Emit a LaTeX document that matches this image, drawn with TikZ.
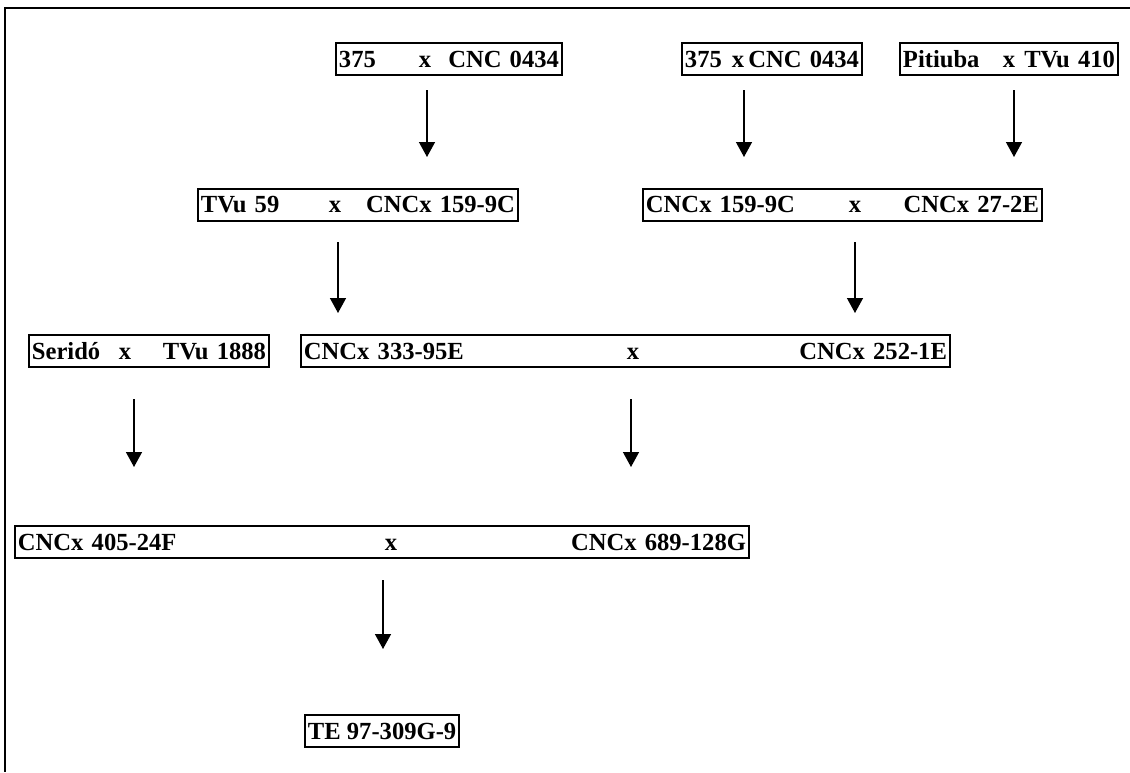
\documentclass[tikz,border=0pt]{standalone}
\usepackage{fontspec}
\setmainfont{Liberation Serif}
\usepackage{tikz}
\usetikzlibrary{arrows.meta}
\newlength\px
\setlength\px{0.02cm}
\newcommand{\crossline}[3]{\makebox[#1][l]{#2}\makebox[0pt]{x}\hfill\mbox{#3}}
\tikzset{
  crossbox/.style={draw, line width=1.1pt, anchor=north west, minimum height=32\px,
                   inner xsep=3\px, inner ysep=0pt, font=\fontsize{14}{16}\selectfont\bfseries},
  boxw/.style={minimum width=#1\px, text width=#1\px-6\px},
  cross arrow/.style={-{Triangle[width=0.32cm, length=0.3cm]}, line width=0.8pt}
}

\begin{document}
\begin{tikzpicture}[x=0.02cm, y=-0.02cm]
    \useasboundingbox (0,0) rectangle (1130,772);
    \draw[line width=1.2pt] (1130,8) -- (5,8) -- (5,772);

    \node[crossbox, boxw=226] (p375a) at (335,42) {\crossline{86\px}{375}{CNC 0434}};
    \node[crossbox, boxw=180] (p375b) at (681,42) {\crossline{53\px}{375}{CNC 0434}};
    \node[crossbox, boxw=218] (pitiuba) at (899,42) {\crossline{106\px}{Pitiuba}{TVu 410}};
    \node[crossbox, boxw=320] (tvu59) at (197,188) {\crossline{134\px}{TVu 59}{CNCx 159-9C}};
    \node[crossbox, boxw=399] (cnc159) at (642,188) {\crossline{209\px}{CNCx 159-9C}{CNCx 27-2E}};
    \node[crossbox, boxw=240] (serido) at (28,334) {\crossline{93\px}{Seridó}{TVu 1888}};
    \node[crossbox, boxw=649] (cnc333) at (300,334) {\crossline{329\px}{CNCx 333-95E}{CNCx 252-1E}};
    \node[crossbox, boxw=734] (cnc405) at (14,525) {\crossline{373\px}{CNCx 405-24F}{CNCx 689-128G}};
    \node[crossbox, minimum width=153\px] (te97) at (304,714) {TE 97-309G-9};

    \foreach \n/\x/\ya/\yb in {a1/427/90/157, a2/744/90/157, a3/1014/90/157,
                               a4/338/242/313, a5/855/242/313,
                               a6/134/399/467, a7/631/399/467,
                               a8/383/580/649}{
      \coordinate (\n-top) at (\x,\ya);
      \coordinate (\n-tip) at (\x,\yb);
      \draw[cross arrow] (\n-top) -- (\n-tip);
    }
\end{tikzpicture}
\end{document}
